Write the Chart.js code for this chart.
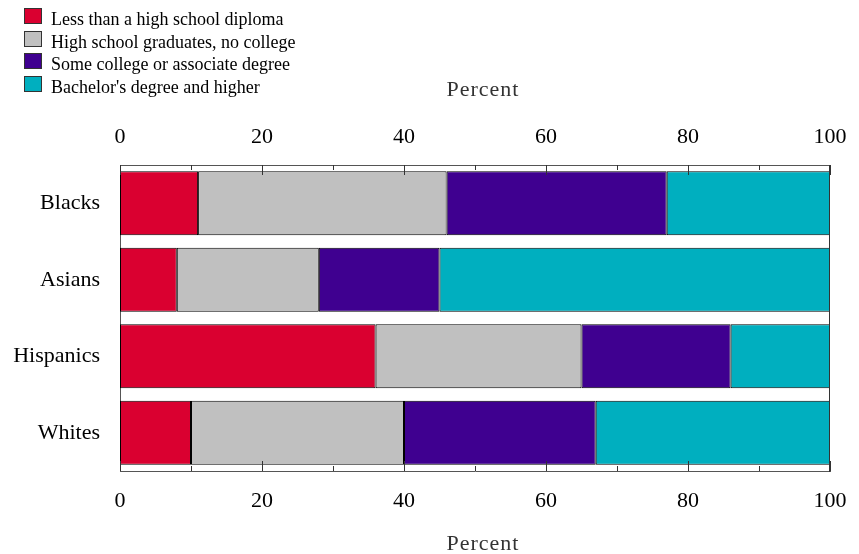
<!DOCTYPE html>
<html>
<head>
<meta charset="utf-8">
<title>Educational attainment by group</title>
<script src="https://cdn.jsdelivr.net/npm/chart.js@4.4.1/dist/chart.umd.min.js"></script>
<style>
  body { margin: 0; background: #fff; }
  #wrap { position: relative; width: 859px; height: 554px; }
  #legend {
    position: absolute; left: 24px; top: 8px; margin: 0; padding: 0; list-style: none;
    font: 18px "Liberation Serif", "Times New Roman", serif; color: #000;
  }
  #legend li { display: flex; align-items: flex-start; height: 22.6px; line-height: 22.6px; white-space: nowrap; }
  #legend .box { width: 16px; height: 14px; border: 1px solid #333; margin-right: 9px; }
</style>
</head>
<body>
<div id="wrap">
  <canvas id="chart" width="859" height="554"></canvas>
  <ul id="legend"></ul>
</div>
<script>
// Data
const groups = ['Blacks', 'Asians', 'Hispanics', 'Whites'];
const seriesLabels = [
    'Less than a high school diploma',
    'High school graduates, no college',
    'Some college or associate degree',
    "Bachelor's degree and higher"
];
const seriesColors = ['#DA0030', '#C0C0C0', '#3F0090', '#00AFBF'];
const lessThanHighSchool = [11, 8, 36, 10];
const highSchoolOnly = [35, 20, 29, 30];
const someCollege = [31, 17, 21, 27];
const bachelorsOrHigher = [23, 55, 14, 33];
const majorTicks = [0, 20, 40, 60, 80, 100];
const minorTicks = [10, 30, 50, 70, 90];

const seriesValues = [lessThanHighSchool, highSchoolOnly, someCollege, bachelorsOrHigher];
const serif = 'Liberation Serif';

document.addEventListener('DOMContentLoaded', function() {
    buildLegend();
    buildChart();
});

// Vertical legend in the top-left corner
function buildLegend() {
    const list = document.getElementById('legend');
    seriesLabels.forEach((label, i) => {
        const li = document.createElement('li');
        const box = document.createElement('span');
        box.className = 'box';
        box.style.background = seriesColors[i];
        li.appendChild(box);
        li.appendChild(document.createTextNode(label));
        list.appendChild(li);
    });
}

// Same 0-100 axis used on top and bottom
function percentAxis(position, tickPadding, boxHeight, title) {
    return {
        type: 'linear',
        position: position,
        min: 0,
        max: 100,
        stacked: true,
        grid: { display: false, drawTicks: false },
        border: { display: true, color: '#555', width: 1 },
        ticks: {
            color: '#000',
            font: { family: serif, size: 22 },
            padding: tickPadding,
            maxRotation: 0,
            autoSkip: false
        },
        afterBuildTicks: s => { s.ticks = majorTicks.map(v => ({ value: v })); },
        title: title,
        afterFit: s => {
            s.height = boxHeight;
            // labels fit inside the layout padding, no extra room needed
            s.paddingLeft = 0;
            s.paddingRight = 0;
        }
    };
}

// Minor/major tick marks pointing into the plot, plus the right edge of the frame
const frameTicks = {
    id: 'frameTicks',
    afterLayout(chart) {
        // the axis titles are slightly letter-spaced and sit a bit right of centre
        [chart.scales.x, chart.scales.xTop].forEach(s => {
            if (s._spacedTitle) return;
            const draw = s.drawTitle.bind(s);
            s.drawTitle = function() {
                const c = this.ctx;
                c.save();
                c.letterSpacing = '1px';
                c.translate(8, 0);
                draw();
                c.restore();
            };
            s._spacedTitle = true;
        });
    },
    afterDatasetsDraw(chart) {
        const { ctx, chartArea: a, scales } = chart;
        ctx.save();
        ctx.strokeStyle = '#333';
        ctx.lineWidth = 1;
        ctx.beginPath();
        const rx = Math.round(a.right) - 0.5;
        ctx.moveTo(rx, a.top);
        ctx.lineTo(rx, a.bottom + 1);
        [scales.x, scales.xTop].forEach(s => {
            const top = s.position === 'top';
            const edge = top ? a.top : a.bottom;
            const dir = top ? 1 : -1;
            majorTicks.concat(minorTicks).forEach(v => {
                const px = Math.round(s.getPixelForValue(v)) + 0.5;
                const len = majorTicks.includes(v) ? 10 : 5;
                ctx.moveTo(px, edge);
                ctx.lineTo(px, edge + dir * len);
            });
        });
        ctx.stroke();
        ctx.restore();
    }
};

function buildChart() {
    const ctx = document.getElementById('chart').getContext('2d');
    new Chart(ctx, {
        type: 'bar',
        data: {
            labels: groups,
            datasets: seriesValues.map((values, i) => ({
                label: seriesLabels[i],
                data: values,
                backgroundColor: seriesColors[i],
                borderColor: '#000',
                borderWidth: 1,
                borderSkipped: false,
                barPercentage: 0.837,
                categoryPercentage: 1,
                xAxisID: 'x',
                yAxisID: 'y'
            }))
        },
        options: {
            indexAxis: 'y',
            responsive: false,
            animation: false,
            layout: { padding: { left: 0, top: 0, right: 29, bottom: 0 } },
            plugins: {
                legend: { display: false },
                tooltip: { enabled: false }
            },
            scales: {
                xTop: percentAxis('top', 15, 165, {
                    display: true,
                    text: 'Percent',
                    color: '#333',
                    font: { family: serif, size: 22, lineHeight: 1.2 },
                    padding: { top: 77, bottom: 0 }
                }),
                x: percentAxis('bottom', 17, 83, {
                    display: true,
                    text: 'Percent',
                    color: '#333',
                    font: { family: serif, size: 22, lineHeight: 0.9 },
                    padding: { top: 0, bottom: 0 }
                }),
                y: {
                    type: 'category',
                    stacked: true,
                    offset: true,
                    grid: { display: false, drawTicks: false },
                    border: { display: true, color: '#555', width: 1 },
                    ticks: {
                        color: '#000',
                        font: { family: serif, size: 22 },
                        padding: 20
                    },
                    afterFit: s => { s.width = 120; }
                }
            }
        },
        plugins: [frameTicks]
    });
}
</script>
</body>
</html>
